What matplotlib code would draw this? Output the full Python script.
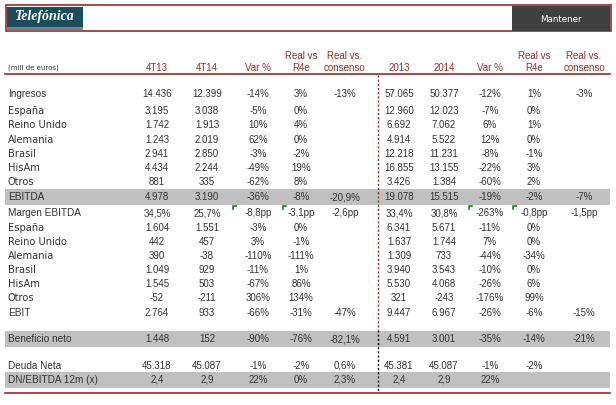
import matplotlib
matplotlib.use("Agg")
import matplotlib.pyplot as plt
from matplotlib.patches import Rectangle

# ---------------- data ----------------
row_labels = ["Ingresos", "España", "Reino Unido", "Alemania", "Brasil", "HisAm", "Otros",
              "EBITDA", "Margen EBITDA", "España", "Reino Unido", "Alemania", "Brasil",
              "HisAm", "Otros", "EBIT", "Beneficio neto", "Deuda Neta", "DN/EBITDA 12m (x)"]
col_headers = ["4T13", "4T14", "Var %", "Real vs\nR4e", "Real vs.\nconsenso",
               "2013", "2014", "Var %", "Real vs\nR4e", "Real vs.\nconsenso"]
q4_13 = ["14.436", "3.195", "1.742", "1.243", "2.941", "4.434", "881", "4.978", "34,5%",
         "1.604", "442", "390", "1.049", "1.545", "-52", "2.764", "1.448", "45.318", "2,4"]
q4_14 = ["12.399", "3.038", "1.913", "2.019", "2.850", "2.244", "335", "3.190", "25,7%",
         "1.551", "457", "-38", "929", "503", "-211", "933", "152", "45.087", "2,9"]
var_q = ["-14%", "-5%", "10%", "62%", "-3%", "-49%", "-62%", "-36%", "-8,8pp",
         "-3%", "3%", "-110%", "-11%", "-67%", "306%", "-66%", "-90%", "-1%", "22%"]
r4e_q = ["3%", "0%", "4%", "0%", "-2%", "19%", "8%", "-8%", "-3,1pp",
         "0%", "-1%", "-111%", "1%", "86%", "134%", "-31%", "-76%", "-2%", "0%"]
cons_q = ["-13%", "", "", "", "", "", "", "-20,9%", "-2,6pp",
          "", "", "", "", "", "", "-47%", "-82,1%", "0,6%", "2,3%"]
y2013 = ["57.065", "12.960", "6.692", "4.914", "12.218", "16.855", "3.426", "19.078", "33,4%",
         "6.341", "1.637", "1.309", "3.940", "5.530", "321", "9.447", "4.591", "45.381", "2,4"]
y2014 = ["50.377", "12.023", "7.062", "5.522", "11.231", "13.155", "1.384", "15.515", "30,8%",
         "5.671", "1.744", "733", "3.543", "4.068", "-243", "6.967", "3.001", "45.087", "2,9"]
var_y = ["-12%", "-7%", "6%", "12%", "-8%", "-22%", "-60%", "-19%", "-263%",
         "-11%", "7%", "-44%", "-10%", "-26%", "-176%", "-26%", "-35%", "-1%", "22%"]
r4e_y = ["1%", "0%", "1%", "0%", "-1%", "3%", "2%", "-2%", "-0,8pp",
         "0%", "0%", "-34%", "0%", "6%", "99%", "-6%", "-14%", "-2%", ""]
cons_y = ["-3%", "", "", "", "", "", "", "-7%", "-1,5pp",
          "", "", "", "", "", "", "-15%", "-21%", "", ""]
shaded_rows = [7, 16, 18]
sub_rows = {1, 2, 3, 4, 5, 6, 9, 10, 11, 12, 13, 14}

columns = [q4_13, q4_14, var_q, r4e_q, cons_q, y2013, y2014, var_y, r4e_y, cons_y]

# ---------------- layout ----------------
W, H = 616, 405
col_x = [157, 207, 258, 301, 345, 399, 444, 490, 534, 584]
row_y = [94, 111, 125, 140, 154, 168, 182, 197, 213, 228, 242, 256, 270, 284, 298, 313,
         339, 366, 380]
TXT = "#333333"
RED = "#9a2a2a"

fig = plt.figure(figsize=(W / 100, H / 100), dpi=100)
ax = fig.add_axes([0, 0, 1, 1])
ax.set_xlim(0, W)
ax.set_ylim(H, 0)
ax.axis("off")

# header box
ax.add_patch(Rectangle((5.5, 5), 605, 25.5, fill=False, edgecolor=RED, lw=1.2))
ax.add_patch(Rectangle((7, 6.5), 76, 23, facecolor="#1b4d5c", edgecolor="none"))
ax.add_patch(Rectangle((7, 26.5), 76, 3, facecolor="#5f8a97", edgecolor="none"))
ax.text(45, 16.5, "Telefónica", color="white", fontsize=10, style="italic",
        weight="bold", family="Liberation Serif", ha="center", va="center")
ax.add_patch(Rectangle((512, 6), 98, 24.5, facecolor="#404040", edgecolor="none"))
ax.text(561, 19, "Mantener", color="white", fontsize=6.3, family="DejaVu Sans",
        ha="center", va="center")

# column headers
ax.text(8, 68, "(mill de euros)", color=TXT, fontsize=5, family="DejaVu Sans",
        ha="left", va="center")
for x, h in zip(col_x, col_headers):
    lines = h.split("\n")
    if len(lines) == 2:
        ax.text(x, 56, lines[0], color=RED, fontsize=7, family="Liberation Sans",
                ha="center", va="center")
    ax.text(x, 68, lines[-1], color=RED, fontsize=7, family="Liberation Sans",
            ha="center", va="center")
ax.plot([5, 610], [74, 74], color=RED, lw=1.2)

# shaded rows
for i in shaded_rows:
    y = row_y[i]
    ax.add_patch(Rectangle((5, y - 8), 605, 16, facecolor="#c0c0c0",
                           edgecolor="none", zorder=0))

# rows
for i, (lab, y) in enumerate(zip(row_labels, row_y)):
    if i in sub_rows:
        ax.text(8, y, lab, color=TXT, fontsize=7.1, family="DejaVu Sans",
                ha="left", va="center")
    else:
        ax.text(8, y, lab, color=TXT, fontsize=7.2, family="Liberation Sans",
                ha="left", va="center")
    for x, col in zip(col_x, columns):
        ax.text(x, y, col[i], color=TXT, fontsize=7, family="Liberation Sans",
                ha="center", va="center")

# comment markers
for x in [233, 283, 469, 513]:
    ax.plot([x, x, x + 2.5], [208.5, 206, 206], color="#108010", lw=1.2)

# dotted separator
ax.plot([377.5, 377.5], [75, 330], color=RED, lw=1, ls=(0, (1.5, 1.5)))
ax.plot([377.5, 377.5], [330, 392], color="black", lw=1, ls=(0, (1.5, 1.5)))
ax.plot([5, 610], [393, 393], color=RED, lw=1.2)

fig.savefig("out.png", dpi=100)
